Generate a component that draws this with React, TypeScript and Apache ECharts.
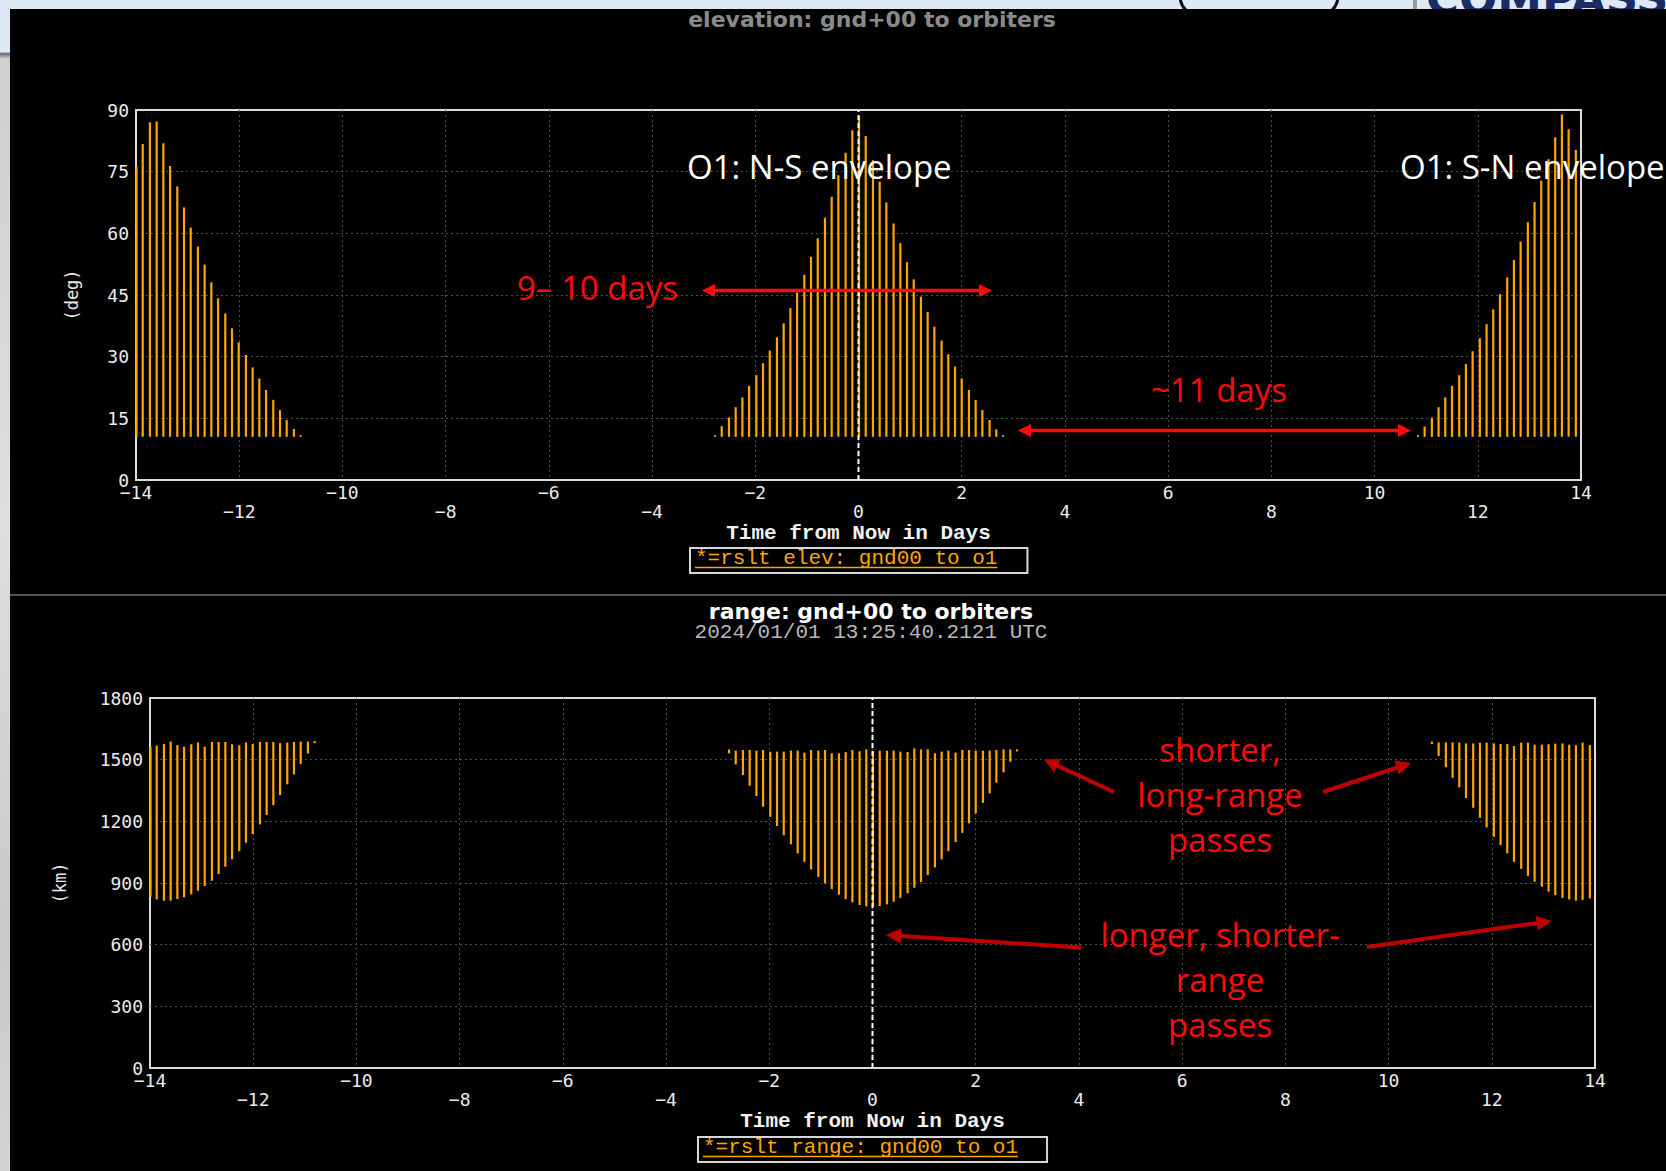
import React, { useEffect, useRef } from 'react';
import * as echarts from 'echarts';

const W = 1666;
const H = 1171;

// Series names (also shown in the legends)
const ELEV_NAME = '*=rslt elev: gnd00 to o1';
const RANGE_NAME = '*=rslt range: gnd00 to o1';

// Axis ticks
const DAY_MIN = -14;
const DAY_MAX = 14;
const DAY_STEP = 2;
const ELEV_MAX = 90;
const ELEV_STEP = 15;
const RANGE_MAX = 1800;
const RANGE_STEP = 300;

// Elevation mask: every pass starts and ends here
const ELEV_MASK_DEG = 10.5;

// Pass epochs, days from now: N-S envelope tail, N-S envelope, S-N envelope
const leftPassDays = [-13.99, -13.87, -13.73, -13.6, -13.47, -13.34, -13.2, -13.07, -12.94, -12.8, -12.67, -12.54, -12.41, -12.27, -12.14, -12.01, -11.87, -11.74, -11.61, -11.48, -11.34, -11.21, -11.08, -10.94, -10.81];
const midPassDays = [-2.78, -2.65, -2.51, -2.38, -2.25, -2.12, -1.98, -1.85, -1.72, -1.58, -1.45, -1.32, -1.19, -1.05, -0.92, -0.79, -0.65, -0.52, -0.39, -0.25, -0.12, 0.01, 0.14, 0.28, 0.41, 0.54, 0.68, 0.81, 0.94, 1.07, 1.21, 1.34, 1.47, 1.61, 1.74, 1.87, 2.0, 2.14, 2.27, 2.4, 2.54, 2.67, 2.8];
const rightPassDays = [10.84, 10.97, 11.11, 11.24, 11.37, 11.5, 11.64, 11.77, 11.9, 12.04, 12.17, 12.3, 12.43, 12.57, 12.7, 12.83, 12.97, 13.1, 13.23, 13.37, 13.5, 13.63, 13.76, 13.9];

// Peak elevation of each pass (deg)
const leftPeakElev = [76.2, 81.7, 87.0, 87.2, 81.9, 76.4, 71.4, 66.3, 61.4, 56.8, 52.4, 48.1, 44.2, 40.5, 36.9, 33.5, 30.4, 27.4, 24.7, 21.9, 19.5, 17.0, 14.6, 12.4, 10.9];
const midPeakElev = [10.9, 13.1, 15.2, 17.7, 20.1, 22.9, 25.5, 28.4, 31.5, 34.7, 38.1, 41.8, 45.6, 49.9, 54.3, 58.8, 63.8, 68.9, 74.1, 79.6, 85.1, 88.5, 83.7, 77.8, 72.6, 67.5, 62.4, 57.6, 53.0, 48.8, 44.6, 40.9, 37.3, 33.9, 30.6, 27.6, 24.7, 21.9, 19.5, 17.0, 14.6, 12.3, 10.9];
const rightPeakElev = [10.9, 13.0, 15.2, 17.7, 20.1, 22.9, 25.5, 28.2, 31.3, 34.5, 37.9, 41.5, 45.2, 49.3, 53.5, 58.0, 62.7, 67.6, 72.8, 78.0, 83.4, 88.9, 85.3, 80.3];

// Closest approach of each pass (km)
const leftMinRange = [833, 820, 814, 814, 822, 830, 845, 862, 885, 911, 944, 979, 1015, 1055, 1096, 1138, 1185, 1231, 1279, 1328, 1380, 1428, 1479, 1530, 1580];
const midMinRange = [1531, 1477, 1425, 1373, 1323, 1271, 1222, 1177, 1132, 1088, 1044, 1003, 966, 930, 898, 871, 843, 822, 806, 793, 786, 785, 788, 796, 809, 828, 850, 877, 905, 939, 976, 1015, 1055, 1099, 1144, 1190, 1239, 1290, 1336, 1388, 1438, 1490, 1540];
const rightMinRange = [1576, 1518, 1463, 1412, 1365, 1313, 1266, 1217, 1171, 1125, 1085, 1044, 1003, 969, 935, 906, 882, 858, 841, 828, 820, 814, 817, 825];

// Range at the elevation mask, rise/set of each pass (km)
const leftMaxRange = [1563, 1568, 1576, 1588, 1571, 1563, 1575, 1584, 1563, 1586, 1586, 1586, 1575, 1570, 1584, 1576, 1586, 1586, 1586, 1580, 1583, 1586, 1588, 1588, 1591];
const midMaxRange = [1550, 1544, 1547, 1547, 1544, 1547, 1539, 1539, 1539, 1544, 1544, 1534, 1547, 1544, 1547, 1531, 1531, 1537, 1547, 1541, 1550, 1539, 1544, 1544, 1544, 1539, 1537, 1555, 1550, 1550, 1531, 1539, 1544, 1534, 1547, 1547, 1544, 1544, 1544, 1547, 1550, 1550, 1550];
const rightMaxRange = [1588, 1584, 1584, 1584, 1583, 1579, 1579, 1583, 1583, 1579, 1576, 1576, 1566, 1583, 1583, 1573, 1573, 1575, 1578, 1579, 1573, 1570, 1583, 1571];

const passDays = [...leftPassDays, ...midPassDays, ...rightPassDays];
const peakElev = [...leftPeakElev, ...midPeakElev, ...rightPeakElev];
const minRange = [...leftMinRange, ...midMinRange, ...rightMinRange];
const maxRange = [...leftMaxRange, ...midMaxRange, ...rightMaxRange];

const elevRows = passDays.map((t, i) => [t, ELEV_MASK_DEG, peakElev[i]]);
const rangeRows = passDays.map((t, i) => [t, minRange[i], maxRange[i]]);

const ORANGE = '#ffa500';
const MONO = "'DejaVu Sans Mono', monospace";
const COURIER = "'Liberation Mono', monospace";
const NOTE_FONT = "'Open Sans', sans-serif";

// One vertical stroke per pass
const passRenderer = (params: any, api: any) => {
  const t = api.value(0);
  const a = api.coord([t, api.value(1)]);
  const b = api.coord([t, api.value(2)]);
  return {
    type: 'line',
    shape: { x1: a[0], y1: a[1], x2: b[0], y2: b[1] },
    style: { stroke: ORANGE, lineWidth: 2.2 },
  };
};

// Day ticks alternate between two label rows
const dayLabel = (v: number) => {
  const s = v < 0 ? '\u2212' + Math.abs(v) : String(v);
  const idx = Math.round((v - DAY_MIN) / DAY_STEP);
  return idx % 2 === 1 ? '\n' + s : s;
};

const gridLine = { show: true, showMinLine: false, showMaxLine: false, lineStyle: { color: '#4d4d4d', width: 1, type: [2, 3] } };

const makeXAxis = (gridIndex: number, nameGap: number) => ({
  type: 'value',
  gridIndex,
  min: DAY_MIN,
  max: DAY_MAX,
  interval: DAY_STEP,
  name: 'Time from Now in Days',
  nameLocation: 'middle',
  nameGap,
  nameTextStyle: { color: '#f2f2f2', fontFamily: COURIER, fontWeight: 'bold', fontSize: 21, lineHeight: 22 },
  axisLine: { show: false },
  axisTick: { show: false },
  axisLabel: { formatter: dayLabel, color: '#ececec', fontFamily: MONO, fontSize: 18, lineHeight: 19, margin: 3 },
  splitLine: gridLine,
});

const makeYAxis = (gridIndex: number, max: number, step: number, name: string, nameGap: number) => ({
  type: 'value',
  gridIndex,
  min: 0,
  max,
  interval: step,
  name,
  nameLocation: 'middle',
  nameRotate: 90,
  nameGap,
  nameTextStyle: { color: '#e8e8e8', fontFamily: MONO, fontSize: 17, lineHeight: 18 },
  axisLine: { show: false },
  axisTick: { show: false },
  axisLabel: { formatter: (v: number) => String(v), color: '#ececec', fontFamily: MONO, fontSize: 18, margin: 7 },
  splitLine: gridLine,
});

type Pt = [number, number];

// Straight arrow with a triangular head at the end (and optionally at the start)
function arrow(from: Pt, to: Pt, color: string, width: number, head: number, half: number, twoWay: boolean) {
  const dx = to[0] - from[0];
  const dy = to[1] - from[1];
  const len = Math.hypot(dx, dy);
  const ux = dx / len;
  const uy = dy / len;
  const nx = -uy;
  const ny = ux;
  const headAt = (tip: Pt, sx: number, sy: number) => {
    const bx = tip[0] - sx * head;
    const by = tip[1] - sy * head;
    return {
      type: 'polygon',
      z: 100,
      silent: true,
      shape: { points: [tip, [bx + nx * half, by + ny * half], [bx - nx * half, by - ny * half]] },
      style: { fill: color },
    };
  };
  const s: Pt = twoWay ? [from[0] + ux * head * 0.8, from[1] + uy * head * 0.8] : from;
  const e: Pt = [to[0] - ux * head * 0.8, to[1] - uy * head * 0.8];
  const els: any[] = [
    { type: 'line', z: 100, silent: true, shape: { x1: s[0], y1: s[1], x2: e[0], y2: e[1] }, style: { stroke: color, lineWidth: width } },
    headAt(to, ux, uy),
  ];
  if (twoWay) els.push(headAt(from, -ux, -uy));
  return els;
}

const note = (text: string, x: number, y: number, fill: string, align: string = 'left') => ({
  type: 'text',
  z: 100,
  silent: true,
  x,
  y,
  style: { text, fill, fontFamily: NOTE_FONT, fontSize: 33, lineHeight: 45, align, verticalAlign: 'middle' },
});

const RED = '#ff0a0a';
const DARK_RED = '#c00000';

// Legend boxes
const LEG_FONT = 21;
const LEG_CHAR = LEG_FONT * 0.6;
const leg1 = { left: 690, top: 548 };
const leg2 = { left: 698, top: 1137 };

const legend = (name: string, pos: { left: number; top: number }, padRight: number) => ({
  data: [name],
  left: pos.left,
  top: pos.top,
  orient: 'horizontal',
  selectedMode: false,
  icon: 'none',
  itemWidth: 0,
  itemHeight: 0,
  padding: [0, padRight, 4, 0],
  borderColor: '#d6d6d6',
  borderWidth: 2,
  textStyle: { color: ORANGE, fontFamily: COURIER, fontSize: LEG_FONT, lineHeight: 21 },
});

const underline = (name: string, pos: { left: number; top: number }) => ({
  type: 'line',
  z: 100,
  silent: true,
  shape: { x1: pos.left + 5, y1: pos.top + 19.5, x2: pos.left + 5 + name.length * LEG_CHAR, y2: pos.top + 19.5 },
  style: { stroke: ORANGE, lineWidth: 1.5 },
});

export default function App() {
  const ref = useRef<HTMLDivElement>(null);

  useEffect(() => {
    if (!ref.current) return;
    const chart = echarts.init(ref.current, undefined, { renderer: 'svg' });

    const graphic: any[] = [
      // slide surroundings
      { type: 'rect', z: 1, silent: true, shape: { x: 0, y: 0, width: W, height: 9 }, style: { fill: '#dde9f5' } },
      {
        type: 'rect', z: 1, silent: true, shape: { x: 0, y: 0, width: 10, height: H },
        style: { fill: new echarts.graphic.LinearGradient(0, 0, 0, 1, [
          { offset: 0, color: '#dde9f5' }, { offset: 0.044, color: '#dde9f5' }, { offset: 0.046, color: '#6a6a6a' },
          { offset: 0.05, color: '#cfcfcf' }, { offset: 0.45, color: '#dedede' }, { offset: 0.8, color: '#c9c9c9' }, { offset: 1, color: '#d4d4d4' },
        ]) },
      },
      { type: 'rect', z: 2, silent: true, shape: { x: 1180, y: -40, width: 158, height: 56, r: 20 }, style: { fill: 'none', stroke: '#111', lineWidth: 3 } },
      { type: 'rect', z: 2, silent: true, shape: { x: 1413, y: 0, width: 4, height: 9 }, style: { fill: '#9a9a9a' } },
      { type: 'text', z: 2, silent: true, x: 1426, y: 21, style: { text: 'COMPASS', fill: '#1b2b66', fontFamily: 'DejaVu Sans', fontWeight: 'bold', fontSize: 45, verticalAlign: 'bottom' } },
      { type: 'rect', z: 3, silent: true, shape: { x: 10, y: 9, width: W - 10, height: 40 }, style: { fill: '#000' } },
      // separator between the two panels
      { type: 'line', z: 3, silent: true, shape: { x1: 10, y1: 595, x2: W, y2: 595 }, style: { stroke: '#a8a8a8', lineWidth: 1.2 } },
      // legend underlines
      underline(ELEV_NAME, leg1),
      underline(RANGE_NAME, leg2),
      // annotations, elevation panel
      note('O1: N-S envelope', 687, 166, '#ffffff'),
      note('O1: S-N envelope', 1400, 166, '#ffffff'),
      note('9\u2013 10 days', 517, 287, RED),
      note('~11 days', 1151, 389, RED),
      ...arrow([702, 290.5], [992, 290.5], RED, 3.5, 13, 6.5, true),
      ...arrow([1018, 430.5], [1411, 430.5], RED, 3.5, 13, 6.5, true),
      // annotations, range panel
      note('shorter,\nlong-range\npasses', 1220, 794, RED, 'center'),
      note('longer, shorter-\nrange\npasses', 1220, 979, RED, 'center'),
      ...arrow([1114, 792], [1044, 759.5], DARK_RED, 4, 15, 7.5, false),
      ...arrow([1323, 792], [1411, 763], DARK_RED, 4, 15, 7.5, false),
      ...arrow([1081, 947.5], [886, 935], DARK_RED, 4, 15, 7.5, false),
      ...arrow([1367, 947], [1551.5, 921], DARK_RED, 4, 15, 7.5, false),
    ];

    chart.setOption({
      animation: false,
      backgroundColor: '#000',
      title: [
        {
          text: 'elevation: gnd+00 to orbiters',
          left: 872, top: 7, textAlign: 'center', padding: 0,
          textStyle: { color: '#8a8a8a', fontFamily: 'DejaVu Sans', fontWeight: 'bold', fontSize: 22, lineHeight: 24 },
        },
        {
          text: 'range: gnd+00 to orbiters',
          subtext: '2024/01/01 13:25:40.2121 UTC',
          left: 871, top: 600, textAlign: 'center', padding: 0, itemGap: 0,
          textStyle: { color: '#ffffff', fontFamily: 'DejaVu Sans', fontWeight: 'bold', fontSize: 22, lineHeight: 22 },
          subtextStyle: { color: '#b8b8b8', fontFamily: COURIER, fontSize: 21, lineHeight: 21 },
        },
      ],
      legend: [legend(ELEV_NAME, leg1, 30), legend(RANGE_NAME, leg2, 29)],
      grid: [
        { left: 136, top: 110, width: 1445, height: 370, show: true, borderColor: '#dcdcdc', borderWidth: 2, backgroundColor: 'transparent' },
        { left: 150, top: 698, width: 1445, height: 370, show: true, borderColor: '#dcdcdc', borderWidth: 2, backgroundColor: 'transparent' },
      ],
      xAxis: [makeXAxis(0, 42), makeXAxis(1, 42)],
      yAxis: [
        makeYAxis(0, ELEV_MAX, ELEV_STEP, '(deg)', 55),
        makeYAxis(1, RANGE_MAX, RANGE_STEP, '(km)', 81),
      ],
      series: [
        {
          type: 'custom', name: ELEV_NAME, xAxisIndex: 0, yAxisIndex: 0,
          renderItem: passRenderer, encode: { x: 0, y: [1, 2] }, data: elevRows, z: 2, silent: true,
        },
        {
          type: 'custom', name: RANGE_NAME, xAxisIndex: 1, yAxisIndex: 1,
          renderItem: passRenderer, encode: { x: 0, y: [1, 2] }, data: rangeRows, z: 2, silent: true,
        },
        {
          type: 'line', name: 'now-elev', xAxisIndex: 0, yAxisIndex: 0, data: [[0, 0], [0, ELEV_MAX]],
          symbol: 'none', silent: true, z: 3, lineStyle: { color: '#ffffff', width: 2, type: [5, 3] },
        },
        {
          type: 'line', name: 'now-range', xAxisIndex: 1, yAxisIndex: 1, data: [[0, 0], [0, RANGE_MAX]],
          symbol: 'none', silent: true, z: 3, lineStyle: { color: '#ffffff', width: 2, type: [5, 3] },
        },
      ],
      graphic,
    });

    return () => chart.dispose();
  }, []);

  return <div ref={ref} style={{ position: 'fixed', left: 0, top: 0, width: W, height: H }} />;
}
